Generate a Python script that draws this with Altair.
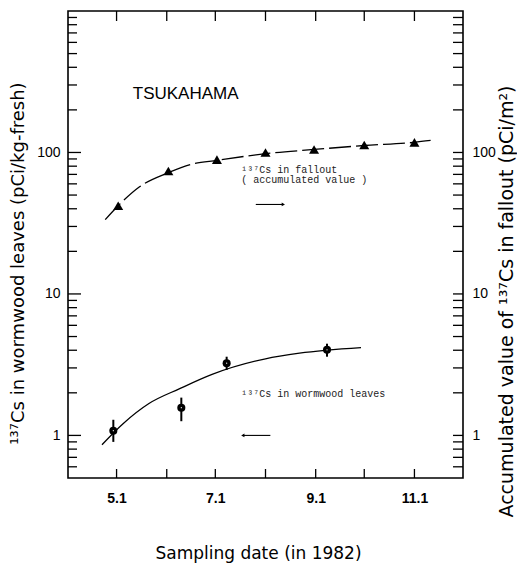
import altair as alt
import pandas as pd

# ---------------- data ----------------
# 137Cs in fallout (accumulated value), triangles, right axis
fall_dates = ["1982-05-02", "1982-06-02", "1982-07-02", "1982-08-01",
              "1982-08-31", "1982-10-01", "1982-11-01"]
fall_vals = [42, 74, 89, 100, 105, 113, 118]

# fitted dashed curve through the fallout points
fall_curve_dates = ["1982-04-24", "1982-05-02", "1982-05-15", "1982-06-02",
                    "1982-06-17", "1982-07-02", "1982-08-01", "1982-08-31",
                    "1982-10-01", "1982-11-01", "1982-11-11"]
fall_curve_vals = [33.5, 42, 57, 72, 83, 88, 98, 105, 112, 118, 121.6]

# 137Cs in wormwood leaves, circles with error bars, left axis
leaf_dates = ["1982-04-29", "1982-06-10", "1982-07-08", "1982-09-08"]
leaf_vals = [1.08, 1.57, 3.24, 4.03]
leaf_lo = [0.90, 1.26, 2.9, 3.6]
leaf_hi = [1.29, 1.85, 3.6, 4.45]

# fitted solid curve through the leaf points
leaf_curve_dates = ["1982-04-22", "1982-05-05", "1982-05-21", "1982-06-09",
                    "1982-06-29", "1982-08-01", "1982-08-22", "1982-09-29"]
leaf_curve_vals = [0.86, 1.21, 1.68, 2.14, 2.7, 3.48, 3.81, 4.17]

# annotations
station_label = ["TSUKAHAMA"]
station_date = ["1982-05-11"]
station_val = [261]

note_labels = ["\u00b9\u00b3\u2077Cs in fallout", "( accumulated value )",
               "\u00b9\u00b3\u2077Cs in wormwood leaves"]
note_dates = ["1982-07-17", "1982-07-17", "1982-07-17"]
note_vals = [75.5, 63.5, 1.95]

arrow_from = ["1982-07-26", "1982-08-04"]
arrow_to = ["1982-08-12", "1982-07-18"]
arrow_val = [42.9, 1.0]
arrow_shape = ["triangle-right", "triangle-left"]

# axes / ticks
tick_months = ["1982-05-01", "1982-06-01", "1982-07-01", "1982-08-01",
               "1982-09-01", "1982-10-01", "1982-11-01"]
label_months = [5, 7, 9, 11]
y_major = [1, 10, 100]
y_minor = [0.6, 0.7, 0.8, 0.9, 2, 3, 4, 5, 6, 7, 8, 9,
           20, 30, 40, 50, 60, 70, 80, 90,
           200, 300, 400, 500, 600, 700, 800, 900]
y_domain = [0.5, 1000]

# ---------------- layout constants ----------------
W, H = 395, 467
SANS = "Liberation Sans"
TITLE = "DejaVu Sans"

# ---------------- tables ----------------
fall_df = pd.DataFrame({"date": fall_dates, "val": fall_vals})
fall_curve_df = pd.DataFrame({"date": fall_curve_dates, "val": fall_curve_vals})
leaf_df = pd.DataFrame({"date": leaf_dates, "val": leaf_vals, "lo": leaf_lo, "hi": leaf_hi})
leaf_curve_df = pd.DataFrame({"date": leaf_curve_dates, "val": leaf_curve_vals})
station_df = pd.DataFrame({"date": station_date, "val": station_val, "label": station_label})
note_df = pd.DataFrame({"date": note_dates, "val": note_vals, "label": note_labels})
arrow_df = pd.DataFrame({"date": arrow_from, "date2": arrow_to, "val": arrow_val,
                         "shape": arrow_shape})
month_df = pd.DataFrame({"date": tick_months})
major_df = pd.DataFrame({"v": y_major})
minor_df = pd.DataFrame({"v": y_minor})
all_df = pd.DataFrame({"v": sorted(y_major + y_minor)})

x_dom = [alt.DateTime(year=1982, month=4, date=1, utc=True),
         alt.DateTime(year=1982, month=12, date=1, utc=True)]
x_label_vals = [alt.DateTime(year=1982, month=m, date=1, utc=True) for m in label_months]


def X(field, axis=None):
    return alt.X(f"{field}:T", scale=alt.Scale(type="utc", domain=x_dom), axis=axis)


def Y(field, axis=None):
    return alt.Y(f"{field}:Q", scale=alt.Scale(type="log", domain=y_domain), axis=axis)


x_bottom = alt.Axis(values=x_label_vals, orient="bottom", ticks=False, domain=False, grid=False,
                    labelExpr="utcFormat(datum.value, '%-m.%-d')",
                    labelPadding=13, labelFont=SANS, labelFontSize=14, labelFontWeight="bold",
                    labelOverlap=False, labelColor="black",
                    title="Sampling date (in 1982)", titleFont=TITLE, titleFontSize=17,
                    titleFontWeight="normal", titleColor="black",
                    titlePadding=40, titleX=190, titleAlign="center")

y_left = alt.Axis(values=y_major, orient="left", ticks=False, domain=False, grid=False,
                  labelExpr="format(datum.value, 'd')", labelPadding=8,
                  labelFont=SANS, labelFontSize=14, labelOverlap=False, labelColor="black",
                  title="\u00b9\u00b3\u2077Cs in wormwood leaves (pCi/kg-fresh)",
                  titleFont=TITLE, titleFontSize=18, titleFontWeight="normal",
                  titleColor="black", titlePadding=9, titleY=252, titleAlign="center")

y_right = alt.Axis(values=y_major, orient="right", ticks=False, domain=False, grid=False,
                   labelExpr="format(datum.value, 'd')",
                   labelPadding=9, labelFont=SANS, labelFontSize=14, labelOverlap=False,
                   labelColor="black",
                   title="Accumulated value of \u00b9\u00b3\u2077Cs in fallout (pCi/m\u00b2)",
                   titleFont=TITLE, titleFontSize=19, titleFontWeight="normal",
                   titleColor="black", titleAngle=270, titleBaseline="top",
                   titlePadding=2, titleY=290, titleAlign="center")

TICKSTYLE = dict(color="black", strokeWidth=1.3)

# inward tick marks along the frame
left_major_ticks = alt.Chart(major_df).mark_rule(**TICKSTYLE).encode(
    y=Y("v"), x=alt.value(0), x2=alt.value(13))
left_minor_ticks = alt.Chart(minor_df).mark_rule(**TICKSTYLE).encode(
    y=Y("v"), x=alt.value(0), x2=alt.value(9))
right_ticks = alt.Chart(all_df).mark_rule(**TICKSTYLE).encode(
    y=Y("v"), x=alt.value(W - 10), x2=alt.value(W))
bottom_ticks = alt.Chart(month_df).mark_rule(**TICKSTYLE).encode(
    x=X("date"), y=alt.value(H - 9), y2=alt.value(H))
top_ticks = alt.Chart(month_df).mark_rule(**TICKSTYLE).encode(
    x=X("date"), y=alt.value(0), y2=alt.value(10))

fall_line = alt.Chart(fall_curve_df).mark_line(
    color="black", strokeWidth=1.3, strokeDash=[22, 5], interpolate="monotone"
).encode(x=X("date", x_bottom), y=Y("val", y_left))

fall_pts = alt.Chart(fall_df).mark_point(
    shape="triangle-up", filled=True, color="black", size=100, opacity=1
).encode(x=X("date"), y=Y("val", y_right))

leaf_line = alt.Chart(leaf_curve_df).mark_line(
    color="black", strokeWidth=1.3, interpolate="monotone"
).encode(x=X("date"), y=Y("val"))

leaf_err = alt.Chart(leaf_df).mark_rule(color="black", strokeWidth=2).encode(
    x=X("date"), y=Y("lo"), y2="hi:Q")

leaf_pts = alt.Chart(leaf_df).mark_point(
    shape="circle", filled=True, color="black", size=65, opacity=1
).encode(x=X("date"), y=Y("val"))

leaf_dots = alt.Chart(leaf_df).mark_point(
    shape="circle", filled=True, color="white", size=1.5, opacity=1
).encode(x=X("date"), y=Y("val"))

station_txt = alt.Chart(station_df).mark_text(
    align="left", baseline="middle", font=SANS, fontSize=17, color="black"
).encode(x=X("date"), y=Y("val"), text="label:N")

note_txt = alt.Chart(note_df).mark_text(
    align="left", baseline="middle", font="Liberation Mono", fontSize=10, color="#222"
).encode(x=X("date"), y=Y("val"), text="label:N")

arrow_rule = alt.Chart(arrow_df).mark_rule(color="black", strokeWidth=1.1).encode(
    x=X("date"), x2="date2:T", y=Y("val"))

arrow_head = alt.Chart(arrow_df).mark_point(
    filled=True, color="black", size=14, opacity=1
).encode(x=X("date2"), y=Y("val"), shape=alt.Shape("shape:N", scale=None))

chart = alt.layer(
    fall_line, fall_pts, leaf_line, leaf_err, leaf_pts, leaf_dots,
    station_txt, note_txt, arrow_rule, arrow_head,
    left_major_ticks, left_minor_ticks, right_ticks, bottom_ticks, top_ticks
).resolve_axis(
    x="independent", y="independent"
).properties(
    width=W, height=H,
    padding={"left": 60, "top": 3, "right": 54, "bottom": 88},
    autosize=alt.AutoSizeParams(type="none"),
    background="white",
).configure_view(
    stroke="black", strokeWidth=1.6
).configure_axis(
    domain=False, grid=False, labelColor="black", titleColor="black",
    titleFontWeight="normal"
)

chart.save("out.html", embed_options={"renderer": "svg", "actions": False})
